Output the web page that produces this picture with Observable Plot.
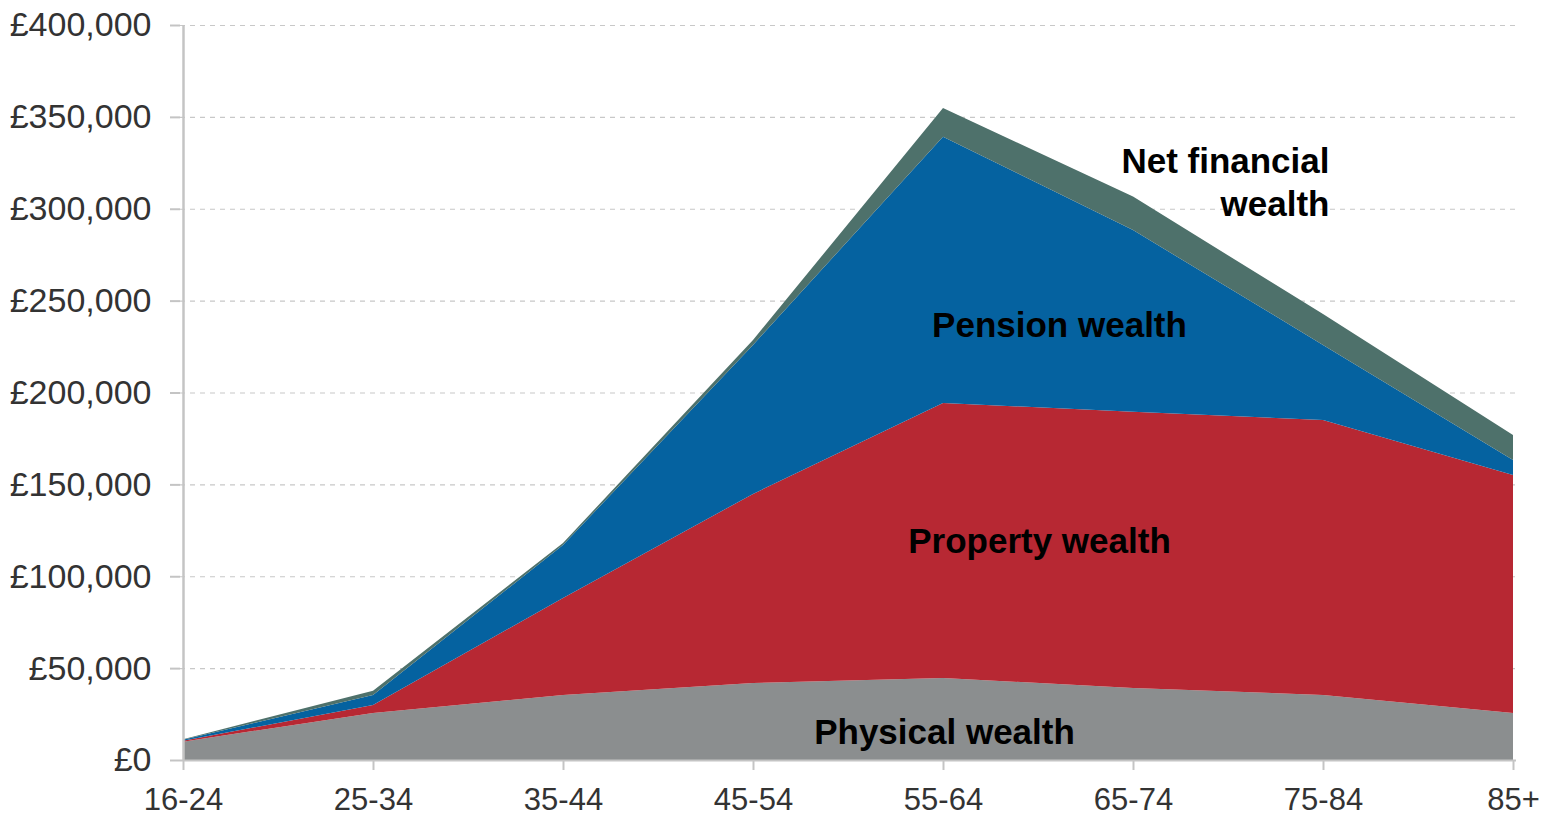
<!DOCTYPE html>
<html>
<head>
<meta charset="utf-8">
<script src="https://cdn.jsdelivr.net/npm/d3@7"></script>
<script src="https://cdn.jsdelivr.net/npm/@observablehq/plot@0.6"></script>
<style>
  html, body { margin: 0; padding: 0; background: #fff; }
  #chart { width: 1545px; height: 817px; }
</style>
</head>
<body>
<div id="chart"></div>
<script>
const ageGroups = ["16-24", "25-34", "35-44", "45-54", "55-64", "65-74", "75-84", "85+"];
const seriesNames = ["Physical wealth", "Property wealth", "Pension wealth", "Net financial wealth"];
const physical  = [10000, 25600, 35400, 41900, 44600, 39200, 35400, 25600];
const property  = [500, 4300, 52800, 102900, 149700, 150300, 149600, 129500];
const pension   = [500, 5500, 28800, 81100, 144900, 98900, 40900, 8200];
const netFinancial = [300, 2300, 1100, 2700, 15600, 18200, 16800, 13600];
const yTicks = [0, 50000, 100000, 150000, 200000, 250000, 300000, 350000, 400000];
const colors = ["#8b8e8f", "#b72833", "#0562a0", "#4e716b"];

const seriesValues = [physical, property, pension, netFinancial];
const data = [];
seriesNames.forEach((s, i) => {
  ageGroups.forEach((a, j) => data.push({age: a, type: s, value: seriesValues[i][j]}));
});

// label anchors in data space (age group, value)
const labelTexts = ["Physical wealth", "Property wealth", "Pension wealth", "Net financial\nwealth"];
const labelAges = ["55-64", "55-64", "55-64", "75-84"];
const labelValues = [15200, 119200, 236700, 315600];

const fmt = d => "£" + d3.format(",")(d);
const labelStyle = {fontSize: 35, fontWeight: "bold", fill: "#000", letterSpacing: "2.8px"};

function label(i, opts) {
  return Plot.text([{text: labelTexts[i], age: labelAges[i], value: labelValues[i]}],
    {x: "age", y: "value", text: "text", ...labelStyle, ...opts});
}

const chart = Plot.plot({
  width: 1545,
  height: 817,
  marginLeft: 180,
  marginRight: 29,
  marginTop: 25,
  marginBottom: 57,
  style: {fontFamily: "'Liberation Sans', Arial, sans-serif", background: "#fff"},
  x: {type: "point", domain: ageGroups, padding: 0, label: null},
  y: {domain: [0, 400000], label: null},
  color: {domain: seriesNames, range: colors},
  marks: [
    Plot.gridY(yTicks, {stroke: "#c8c8c8", strokeOpacity: 1, strokeDasharray: "5,5", strokeWidth: 1.2}),
    Plot.areaY(data, {x: "age", y: "value", fill: "type", order: seriesNames}),
    Plot.ruleY([0], {stroke: "#c4c4c4", strokeWidth: 2}),
    Plot.ruleX([ageGroups[0]], {stroke: "#c4c4c4", strokeWidth: 2.5}),
    Plot.axisY(yTicks, {tickFormat: fmt, tickSize: 10, tickPadding: 19, fontSize: 34, stroke: "#c4c4c4", fill: "#333", strokeWidth: 2}),
    Plot.axisX(ageGroups, {tickSize: 10, tickPadding: 17, fontSize: 31, stroke: "#c4c4c4", fill: "#333", strokeWidth: 2}),
    label(0, {textAnchor: "middle", dx: 1}),
    label(1, {textAnchor: "middle", dx: 96}),
    label(2, {textAnchor: "middle", dx: 116}),
    label(3, {textAnchor: "end", dx: 6, lineHeight: 1.25})
  ]
});

document.getElementById("chart").appendChild(chart);
</script>
</body>
</html>
